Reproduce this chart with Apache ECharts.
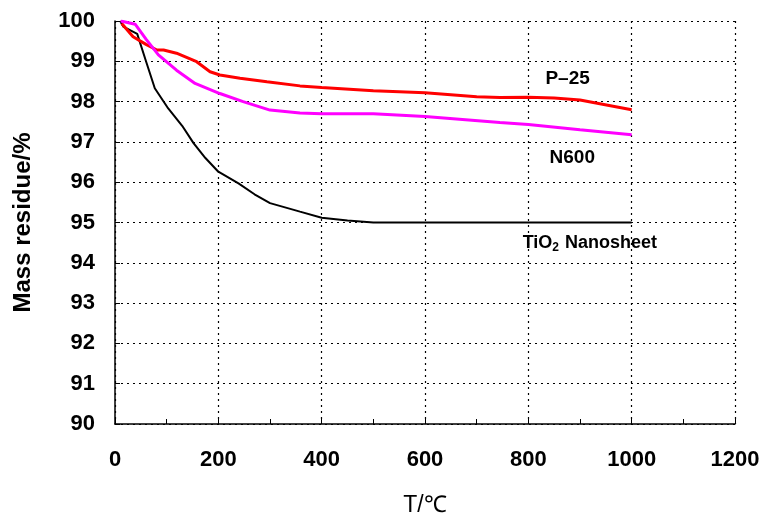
<!DOCTYPE html>
<html><head><meta charset="utf-8">
<script src="https://cdn.jsdelivr.net/npm/echarts@6/dist/echarts.min.js"></script>
<style>html,body{margin:0;padding:0;background:#fff}#c{width:763px;height:516px}</style>
</head><body><div id="c"></div>
<script>
var xTicks = [0, 200, 400, 600, 800, 1000, 1200];
var yTicks = [90, 91, 92, 93, 94, 95, 96, 97, 98, 99, 100];

var nanoT = [10, 16, 43, 60, 77, 103, 130, 152, 175, 200, 239, 270, 300, 358, 400, 450, 500, 600, 700, 800, 900, 1000];
var nanoM = [100, 99.86, 99.68, 99.0, 98.33, 97.83, 97.4, 96.97, 96.6, 96.26, 95.97, 95.7, 95.48, 95.27, 95.12, 95.05, 95.0, 95.0, 95.0, 95.0, 95.0, 95.0];

var p25T = [13, 35, 60, 81, 94, 119, 158, 184, 203, 242, 294, 358, 400, 500, 600, 700, 745, 800, 850, 900, 1000];
var p25M = [99.94, 99.61, 99.42, 99.28, 99.28, 99.2, 98.99, 98.74, 98.66, 98.58, 98.49, 98.39, 98.35, 98.27, 98.22, 98.12, 98.10, 98.11, 98.09, 98.04, 97.8];

var n600T = [11, 39, 60, 84, 119, 155, 203, 248, 300, 358, 400, 500, 600, 745, 800, 900, 1000];
var n600M = [100, 99.92, 99.55, 99.16, 98.78, 98.45, 98.2, 98.0, 97.79, 97.72, 97.7, 97.7, 97.63, 97.48, 97.43, 97.30, 97.18];

var seriesNames = ['TiO2 Nanosheet', 'P-25', 'N600'];
var labelPos = { p25: [876, 98.56], n600: [885, 96.6], nano: [919, 94.49] };

function zip(a, b) { return a.map(function (v, i) { return [v, b[i]]; }); }

var chart = echarts.init(document.getElementById('c'));
var dotted = { color: '#000', width: 1.2, type: [2, 4] };
var FF = 'Liberation Sans';

chart.setOption({
  animation: false,
  grid: { left: 115, right: 28, top: 21, bottom: 92, outerBoundsMode: 'none', containLabel: false },
  xAxis: {
    type: 'value', min: 0, max: 1200, interval: 200,
    name: 'T/℃', nameLocation: 'middle', nameGap: 70,
    nameTextStyle: { fontFamily: FF, fontSize: 23, color: '#000' },
    axisLine: { lineStyle: { color: '#000', width: 1.5 } },
    axisTick: { inside: true, length: 5, lineStyle: { color: '#000' } },
    minorTick: { show: true, splitNumber: 2, length: 5, lineStyle: { color: '#000' } },
    axisLabel: { margin: 25, fontFamily: FF, fontWeight: 'bold', fontSize: 22, color: '#000',
      formatter: function (v) { return xTicks.indexOf(v) >= 0 ? String(v) : ''; } },
    splitLine: { show: true, lineStyle: dotted }
  },
  yAxis: {
    type: 'value', min: 90, max: 100, interval: 1,
    name: 'Mass residue/%', nameLocation: 'middle', nameGap: 80,
    nameTextStyle: { fontFamily: FF, fontWeight: 'bold', fontSize: 24, color: '#000' },
    axisLine: { show: true, lineStyle: { color: '#000', width: 1.5 } },
    axisTick: { show: true, inside: true, length: 5, lineStyle: { color: '#000' } },
    axisLabel: { margin: 20, fontFamily: FF, fontWeight: 'bold', fontSize: 22, color: '#000',
      formatter: function (v) { return yTicks.indexOf(v) >= 0 ? String(v) : ''; } },
    splitLine: { show: true, lineStyle: dotted }
  },
  series: [
    { name: seriesNames[0], type: 'line', data: zip(nanoT, nanoM), symbol: 'none',
      lineStyle: { color: '#000', width: 2 } },
    { name: seriesNames[1], type: 'line', data: zip(p25T, p25M), symbol: 'none',
      lineStyle: { color: '#ff0000', width: 3 } },
    { name: seriesNames[2], type: 'line', data: zip(n600T, n600M), symbol: 'none',
      lineStyle: { color: '#ff00ff', width: 3 } }
  ]
});

function lbl(pos, text, size, rich) {
  var p = chart.convertToPixel({ gridIndex: 0 }, pos);
  return { type: 'text', x: p[0], y: p[1], silent: true,
    style: { text: text, fontFamily: FF, fontWeight: 'bold', fontSize: size, fill: '#000',
      align: 'center', verticalAlign: 'middle', rich: rich } };
}
chart.setOption({ graphic: [
  lbl(labelPos.p25, 'P–25', 19),
  lbl(labelPos.n600, 'N600', 19),
  lbl(labelPos.nano, 'TiO{s|2} Nanosheet', 18, {
    s: { fontFamily: FF, fontWeight: 'bold', fontSize: 12, fill: '#000', padding: [9, 1, 0, 0] } })
] });
</script></body></html>
